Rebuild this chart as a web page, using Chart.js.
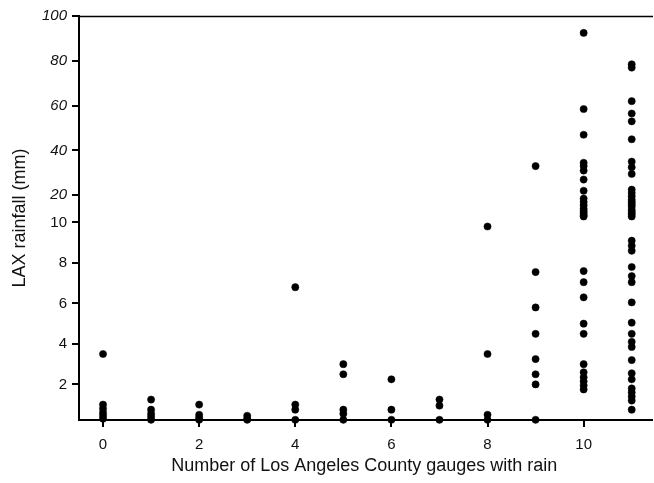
<!DOCTYPE html>
<html>
<head>
<meta charset="utf-8">
<script src="https://cdn.jsdelivr.net/npm/chart.js@4/dist/chart.umd.min.js"></script>
<style>
    html, body { margin: 0; padding: 0; background: #fff; }
    #wrap { width: 654px; height: 483px; position: relative; }
</style>
</head>
<body>
<div id="wrap"><canvas id="laxChart"></canvas></div>
<script>
// LAX rainfall (mm) for each day, grouped by how many LA County gauges had rain
const rain0 = [3.5, 1.0, 0.8, 0.6, 0.45, 0.3];
const rain1 = [1.25, 0.75, 0.55, 0.4, 0.25];
const rain2 = [1.0, 0.5, 0.35, 0.25];
const rain3 = [0.45, 0.3, 0.25];
const rain4 = [6.8, 1.0, 0.75, 0.25];
const rain5 = [3.0, 2.5, 0.75, 0.55, 0.25];
const rain6 = [2.25, 0.75, 0.25];
const rain7 = [1.25, 0.95, 0.25];
const rain8 = [9.8, 3.5, 0.5, 0.25];
const rain9 = [33, 7.55, 5.8, 4.5, 3.25, 2.5, 2.0, 0.25];
const rain10 = [92.5, 58.5, 47, 34.5, 33, 31, 27, 22, 18.5, 17, 15.5, 14, 13, 12, 11, 10.5,
    7.6, 7.05, 6.3, 5.0, 4.5, 3.0, 2.6, 2.35, 2.15, 1.95, 1.75];
const rain11 = [78.5, 77, 62, 56.5, 53, 45, 35, 32.5, 29.5, 22.5, 21, 19.5, 18, 17, 16, 15, 13.5, 12.5, 11.5, 10.5,
    9.1, 8.85, 8.6, 7.8, 7.35, 7.05, 6.05, 5.05, 4.5, 4.1, 3.85, 3.2, 2.55, 2.25, 1.8, 1.6, 1.4, 1.2, 0.75];
const rainByGauges = [rain0, rain1, rain2, rain3, rain4, rain5, rain6, rain7, rain8, rain9, rain10, rain11];

const xTicks = [0, 2, 4, 6, 8, 10];
const yTicks = [2, 4, 6, 8, 10, 20, 40, 60, 80, 100];

// broken y axis: 0-10 linear, above 10 compressed
const BREAK = 10;
const UPPER_START = 10.24;
const UPPER_SLOPE = 0.1106;
function toAxis(v) {
    return v <= BREAK ? v : UPPER_START + (v - BREAK) * UPPER_SLOPE;
}

const points = [];
rainByGauges.forEach((list, n) => {
    list.forEach(v => points.push({ x: n, y: toAxis(v) }));
});

// top frame line + run both horizontal lines out to the canvas edge
const frameLines = {
    id: 'frameLines',
    afterDraw(chart) {
        const { ctx, chartArea, width } = chart;
        const edge = width - 1;
        ctx.save();
        ctx.strokeStyle = '#000';
        ctx.lineWidth = 1.3;
        ctx.beginPath();
        ctx.moveTo(chartArea.left, chartArea.top + 0.5);
        ctx.lineTo(edge, chartArea.top + 0.5);
        ctx.stroke();
        ctx.lineWidth = 2;
        ctx.beginPath();
        ctx.moveTo(chartArea.right - 1, chartArea.bottom);
        ctx.lineTo(edge, chartArea.bottom);
        ctx.stroke();
        ctx.restore();
    }
};

const font = 'Liberation Sans, Arial, sans-serif';

new Chart(document.getElementById('laxChart'), {
    type: 'scatter',
    data: {
        datasets: [{
            data: points,
            backgroundColor: '#000',
            borderColor: '#000',
            borderWidth: 0.5,
            pointRadius: 3.6,
            clip: false
        }]
    },
    options: {
        responsive: true,
        maintainAspectRatio: false,
        animation: false,
        devicePixelRatio: 1,
        layout: { padding: { top: 16, right: 0, left: 0, bottom: 0 } },
        plugins: {
            legend: { display: false },
            tooltip: { enabled: false }
        },
        scales: {
            x: {
                type: 'linear',
                min: -0.5,
                max: 11.37,
                afterBuildTicks: (scale) => { scale.ticks = xTicks.map(v => ({ value: v })); },
                afterFit: (scale) => { scale.height = 63; },
                grid: { drawOnChartArea: false, drawTicks: true, tickLength: 7, color: '#000', lineWidth: 2 },
                border: { display: true, color: '#000', width: 2 },
                ticks: {
                    autoSkip: false,
                    maxRotation: 0,
                    padding: 9,
                    color: '#111',
                    font: { family: font, size: 15 }
                },
                title: {
                    display: true,
                    text: 'Number of Los Angeles County gauges with rain',
                    color: '#111',
                    font: { family: font, size: 18 },
                    padding: { top: 0, bottom: 6 }
                }
            },
            y: {
                type: 'linear',
                min: 0.24,
                max: 20.2,
                afterBuildTicks: (scale) => { scale.ticks = yTicks.map(v => ({ value: toAxis(v) })); },
                afterFit: (scale) => { scale.width = 79; },
                grid: { drawOnChartArea: false, drawTicks: true, tickLength: 7, color: '#000', lineWidth: 2 },
                border: { display: true, color: '#000', width: 2 },
                ticks: {
                    autoSkip: false,
                    padding: 5,
                    color: '#111',
                    callback: (value, index) => String(yTicks[index]),
                    font: (ctx) => ({
                        family: font,
                        size: 15,
                        style: ctx.tick && ctx.tick.value > BREAK + 0.5 ? 'italic' : 'normal'
                    })
                },
                title: {
                    display: true,
                    text: 'LAX rainfall (mm)',
                    color: '#111',
                    font: { family: font, size: 18 },
                    padding: { top: 9, bottom: 0 }
                }
            }
        }
    },
    plugins: [frameLines]
});
</script>
</body>
</html>
